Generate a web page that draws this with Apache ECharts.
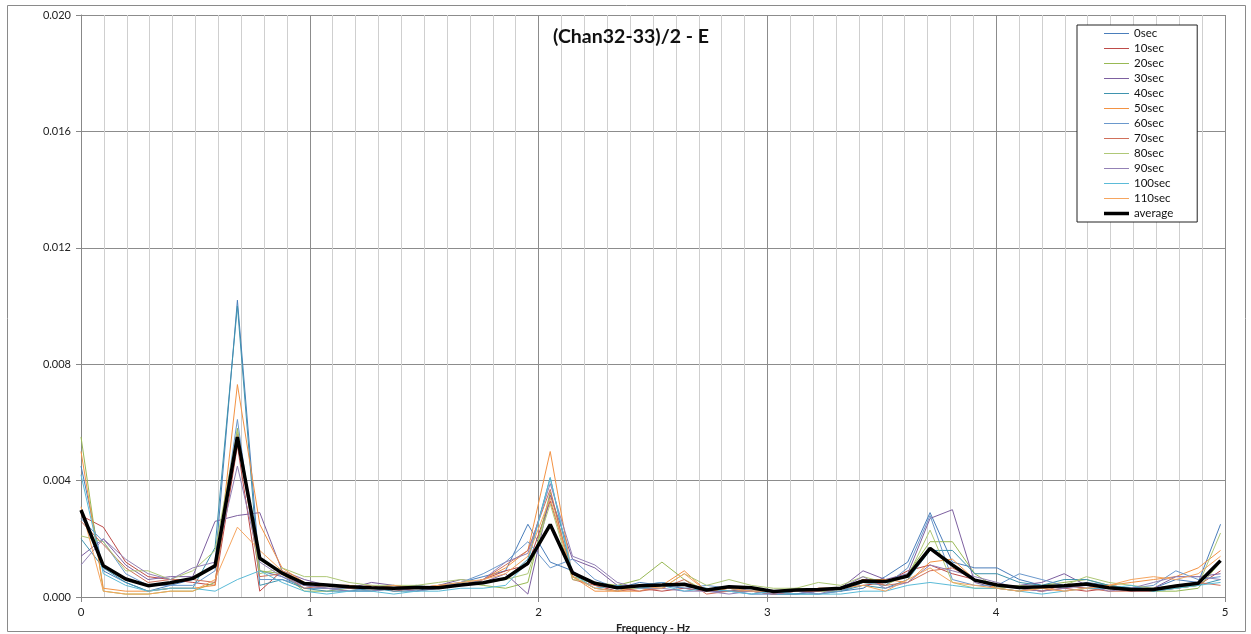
<!DOCTYPE html>
<html>
<head>
<meta charset="utf-8">
<script src="https://cdn.jsdelivr.net/npm/echarts@6/dist/echarts.min.js"></script>
<style>
html,body{margin:0;padding:0;background:#fff;}
#chart{width:1251px;height:634px;}
</style>
</head>
<body>
<div id="chart"></div>
<script>
// Frequency bins (Hz)
const freq = [0, 0.0977, 0.1953, 0.2930, 0.3906, 0.4883, 0.5859, 0.6836, 0.7813, 0.8789,
  0.9766, 1.0742, 1.1719, 1.2695, 1.3672, 1.4648, 1.5625, 1.6602, 1.7578, 1.8555,
  1.9531, 2.0508, 2.1484, 2.2461, 2.3438, 2.4414, 2.5391, 2.6367, 2.7344, 2.8320,
  2.9297, 3.0273, 3.1250, 3.2227, 3.3203, 3.4180, 3.5156, 3.6133, 3.7109, 3.8086,
  3.9063, 4.0039, 4.1016, 4.1992, 4.2969, 4.3945, 4.4922, 4.5898, 4.6875, 4.7852,
  4.8828, 4.9805];

const seriesNames = ['0sec','10sec','20sec','30sec','40sec','50sec','60sec','70sec','80sec','90sec','100sec','110sec'];

const s0sec = [0.0045,0.0009,0.0005,0.0002,0.0004,0.0006,0.0011,0.0102,0.0009,0.0007,
  0.0003,0.0003,0.0002,0.0002,0.0003,0.0002,0.0004,0.0005,0.0007,0.0009,
  0.0025,0.0012,0.0009,0.0004,0.0003,0.0005,0.0004,0.0003,0.0002,0.0002,
  0.0001,0.0001,0.0001,0.0002,0.0002,0.0003,0.0007,0.0012,0.0029,0.0012,
  0.0010,0.0010,0.0006,0.0004,0.0003,0.0005,0.0004,0.0003,0.0003,0.0006,
  0.0005,0.0025];
const s10sec = [0.0028,0.0024,0.0012,0.0007,0.0006,0.0005,0.0004,0.0052,0.0002,0.0009,
  0.0004,0.0003,0.0003,0.0004,0.0002,0.0003,0.0003,0.0004,0.0006,0.0009,
  0.0011,0.0033,0.0008,0.0004,0.0002,0.0003,0.0002,0.0003,0.0002,0.0003,
  0.0002,0.0001,0.0002,0.0002,0.0003,0.0004,0.0005,0.0009,0.0011,0.0008,
  0.0006,0.0004,0.0003,0.0002,0.0003,0.0002,0.0003,0.0002,0.0002,0.0003,
  0.0004,0.0009];
const s20sec = [0.0055,0.0002,0.0001,0.0001,0.0002,0.0002,0.0005,0.0058,0.0009,0.0008,
  0.0002,0.0002,0.0003,0.0002,0.0003,0.0004,0.0003,0.0005,0.0004,0.0003,
  0.0005,0.0036,0.0007,0.0005,0.0004,0.0006,0.0012,0.0006,0.0002,0.0003,
  0.0002,0.0002,0.0003,0.0002,0.0002,0.0005,0.0004,0.0008,0.0019,0.0019,
  0.0008,0.0003,0.0002,0.0004,0.0005,0.0006,0.0004,0.0003,0.0002,0.0002,
  0.0003,0.0012];
const s30sec = [0.0014,0.0020,0.0011,0.0006,0.0007,0.0007,0.0026,0.0028,0.0029,0.0009,
  0.0006,0.0004,0.0003,0.0005,0.0004,0.0003,0.0004,0.0006,0.0005,0.0008,
  0.0001,0.0035,0.0013,0.0010,0.0004,0.0003,0.0004,0.0004,0.0002,0.0002,
  0.0003,0.0002,0.0001,0.0002,0.0003,0.0009,0.0006,0.0008,0.0027,0.0030,
  0.0005,0.0003,0.0004,0.0005,0.0008,0.0004,0.0003,0.0002,0.0003,0.0007,
  0.0007,0.0008];
const s40sec = [0.0020,0.0010,0.0005,0.0002,0.0003,0.0003,0.0017,0.0100,0.0004,0.0006,
  0.0003,0.0002,0.0002,0.0003,0.0002,0.0002,0.0003,0.0004,0.0005,0.0006,
  0.0013,0.0041,0.0007,0.0003,0.0002,0.0004,0.0005,0.0004,0.0003,0.0002,
  0.0002,0.0001,0.0001,0.0001,0.0002,0.0004,0.0003,0.0006,0.0016,0.0016,
  0.0008,0.0008,0.0005,0.0004,0.0006,0.0006,0.0004,0.0003,0.0002,0.0003,
  0.0004,0.0006];
const s50sec = [0.0050,0.0003,0.0002,0.0002,0.0003,0.0003,0.0004,0.0073,0.0025,0.0010,
  0.0005,0.0004,0.0004,0.0003,0.0003,0.0003,0.0004,0.0004,0.0006,0.0010,
  0.0016,0.0050,0.0007,0.0002,0.0002,0.0002,0.0004,0.0009,0.0002,0.0003,
  0.0002,0.0002,0.0002,0.0003,0.0003,0.0006,0.0006,0.0005,0.0012,0.0013,
  0.0006,0.0003,0.0002,0.0003,0.0002,0.0003,0.0004,0.0005,0.0006,0.0007,
  0.0010,0.0016];
const s60sec = [0.0027,0.0019,0.0008,0.0004,0.0004,0.0004,0.0009,0.0061,0.0006,0.0006,
  0.0004,0.0003,0.0003,0.0002,0.0003,0.0004,0.0003,0.0005,0.0008,0.0012,
  0.0019,0.0010,0.0013,0.0006,0.0003,0.0004,0.0005,0.0003,0.0004,0.0003,
  0.0002,0.0002,0.0002,0.0001,0.0002,0.0005,0.0004,0.0010,0.0028,0.0006,
  0.0004,0.0004,0.0008,0.0006,0.0004,0.0003,0.0003,0.0003,0.0004,0.0009,
  0.0006,0.0007];
const s70sec = [0.0026,0.0018,0.0010,0.0005,0.0006,0.0006,0.0005,0.0056,0.0007,0.0008,
  0.0003,0.0004,0.0003,0.0003,0.0004,0.0003,0.0003,0.0004,0.0006,0.0011,
  0.0016,0.0037,0.0006,0.0004,0.0003,0.0002,0.0003,0.0006,0.0001,0.0002,
  0.0002,0.0001,0.0002,0.0002,0.0003,0.0006,0.0004,0.0005,0.0009,0.0010,
  0.0006,0.0004,0.0003,0.0002,0.0004,0.0003,0.0002,0.0002,0.0003,0.0004,
  0.0005,0.0004];
const s80sec = [0.0021,0.0019,0.0009,0.0009,0.0006,0.0009,0.0016,0.0057,0.0008,0.0010,
  0.0007,0.0007,0.0005,0.0004,0.0004,0.0004,0.0005,0.0006,0.0005,0.0006,
  0.0008,0.0032,0.0006,0.0005,0.0003,0.0003,0.0003,0.0008,0.0004,0.0006,
  0.0004,0.0003,0.0003,0.0005,0.0004,0.0007,0.0005,0.0007,0.0023,0.0005,
  0.0003,0.0003,0.0004,0.0003,0.0004,0.0007,0.0005,0.0004,0.0003,0.0003,
  0.0004,0.0022];
const s90sec = [0.0011,0.0020,0.0013,0.0008,0.0006,0.0010,0.0012,0.0045,0.0012,0.0007,
  0.0004,0.0003,0.0002,0.0002,0.0003,0.0002,0.0003,0.0004,0.0006,0.0012,
  0.0015,0.0039,0.0014,0.0011,0.0005,0.0003,0.0003,0.0002,0.0002,0.0001,
  0.0002,0.0001,0.0002,0.0001,0.0003,0.0007,0.0003,0.0005,0.0011,0.0009,
  0.0007,0.0005,0.0003,0.0002,0.0003,0.0004,0.0002,0.0003,0.0005,0.0007,
  0.0007,0.0006];
const s100sec = [0.0042,0.0008,0.0004,0.0002,0.0003,0.0003,0.0002,0.0006,0.0009,0.0005,
  0.0002,0.0001,0.0002,0.0002,0.0001,0.0002,0.0002,0.0003,0.0003,0.0004,
  0.0012,0.0041,0.0008,0.0003,0.0004,0.0003,0.0004,0.0002,0.0003,0.0002,
  0.0001,0.0002,0.0001,0.0001,0.0001,0.0002,0.0002,0.0004,0.0005,0.0004,
  0.0003,0.0003,0.0002,0.0001,0.0002,0.0003,0.0003,0.0004,0.0002,0.0003,
  0.0004,0.0005];
const s110sec = [0.0031,0.0002,0.0001,0.0001,0.0002,0.0002,0.0006,0.0024,0.0016,0.0009,
  0.0005,0.0004,0.0004,0.0003,0.0004,0.0003,0.0004,0.0005,0.0006,0.0008,
  0.0014,0.0034,0.0007,0.0003,0.0002,0.0004,0.0003,0.0008,0.0002,0.0003,
  0.0002,0.0002,0.0002,0.0003,0.0003,0.0004,0.0002,0.0006,0.0010,0.0005,
  0.0004,0.0003,0.0002,0.0003,0.0002,0.0003,0.0004,0.0006,0.0007,0.0006,
  0.0008,0.0014];
const average = [0.00299,0.00107,0.00062,0.00039,0.00049,0.00064,0.00107,0.00550,0.00133,0.00082,
  0.00046,0.00041,0.00035,0.00032,0.00030,0.00033,0.00032,0.00041,0.00049,0.00064,
  0.00116,0.00249,0.00083,0.00047,0.00032,0.00039,0.00041,0.00044,0.00024,0.00035,
  0.00032,0.00019,0.00024,0.00026,0.00030,0.00055,0.00053,0.00072,0.00167,0.00110,
  0.00058,0.00041,0.00033,0.00035,0.00039,0.00045,0.00032,0.00026,0.00026,0.00038,
  0.00047,0.00125];

const yTicks = ['0.000','0.004','0.008','0.012','0.016','0.020'];

const seriesValues = [s0sec,s10sec,s20sec,s30sec,s40sec,s50sec,s60sec,s70sec,s80sec,s90sec,s100sec,s110sec];
const colors = ['#4A7EBB','#BE4B48','#98B954','#7D60A0','#3F93AE','#F39243',
                '#6A98CC','#D0705A','#AFC877','#9381B5','#5BBBD8','#F6A55F'];

const FONT = 'Lato, "Open Sans", sans-serif';
const THIN_ICON = 'path://M0,0L25,0L25,1L0,1Z';
const THICK_ICON = 'path://M0,0L25,0L25,3.5L0,3.5Z';

const series = seriesValues.map((vals, k) => ({
  name: seriesNames[k],
  type: 'line',
  data: freq.map((f, i) => [f, vals[i]]),
  showSymbol: false,
  symbol: 'none',
  lineStyle: { width: 1, color: colors[k] },
  itemStyle: { color: colors[k] },
  z: 2,
  animation: false
}));
series.push({
  name: 'average',
  type: 'line',
  data: freq.map((f, i) => [f, average[i]]),
  showSymbol: false,
  symbol: 'none',
  lineStyle: { width: 3.5, color: '#000' },
  itemStyle: { color: '#000' },
  z: 3,
  animation: false
});

const legendData = seriesNames.map(n => ({ name: n, icon: THIN_ICON }))
  .concat([{ name: 'average', icon: THICK_ICON }]);

const chart = echarts.init(document.getElementById('chart'), null, { renderer: 'canvas' });
chart.setOption({
  animation: false,
  backgroundColor: '#fff',
  title: {
    text: '(Chan32-33)/2 - E',
    left: 626, top: 22,
    textAlign: 'center',
    textStyle: { fontFamily: FONT, fontWeight: 'bold', fontSize: 19.5, color: '#111' }
  },
  graphic: [{
    type: 'rect', shape: { x: 7.5, y: 5.5, width: 1238, height: 626 },
    style: { fill: 'none', stroke: '#8a8a8a', lineWidth: 1 }, silent: true, z: -1
  }],
  grid: { left: 81, right: 26, top: 15, bottom: 37, containLabel: false, outerBoundsMode: 'none' },
  legend: {
    orient: 'vertical',
    left: 1077, top: 25,
    backgroundColor: '#fff',
    borderColor: '#222', borderWidth: 1,
    padding: [2, 24, 2, 27],
    itemWidth: 25, itemHeight: 8, itemGap: 2,
    symbolKeepAspect: true,
    textStyle: { fontFamily: FONT, fontSize: 11.5, color: '#111', lineHeight: 13 },
    data: legendData
  },
  xAxis: {
    type: 'value', min: 0, max: 5, interval: 1,
    name: 'Frequency - Hz', nameLocation: 'middle', nameGap: 23,
    nameTextStyle: { fontFamily: FONT, fontWeight: 'bold', fontSize: 11, color: '#222' },
    axisLine: { show: true, onZero: false, lineStyle: { color: '#888', width: 1 } },
    axisTick: { show: true, length: 5, lineStyle: { color: '#888' } },
    axisLabel: { fontFamily: FONT, fontSize: 11.5, color: '#222', margin: 9 },
    splitLine: { show: true, lineStyle: { color: '#8c8c8c', width: 1 } },
    minorTick: { show: false, splitNumber: 10 },
    minorSplitLine: { show: true, lineStyle: { color: '#cfcfcf', width: 1 } }
  },
  yAxis: {
    type: 'value', min: 0, max: 0.02, interval: 0.004,
    axisLine: { show: true, lineStyle: { color: '#888', width: 1 } },
    axisTick: { show: true, inside: false, length: 5, lineStyle: { color: '#888' } },
    axisLabel: {
      fontFamily: FONT, fontSize: 11, color: '#222', margin: 10,
      formatter: (v) => yTicks[Math.round(v / 0.004)]
    },
    splitLine: { show: true, lineStyle: { color: '#8c8c8c', width: 1 } }
  },
  series: series
});
</script>
</body>
</html>
